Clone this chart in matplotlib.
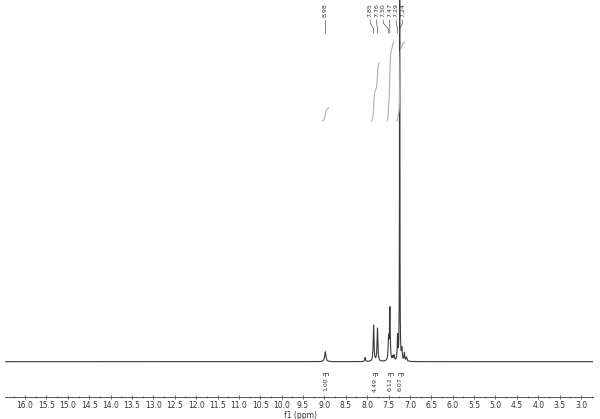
import matplotlib.pyplot as plt
import numpy as np

# peak list (ppm, height in arbitrary units, half width)
peak_ppm = [8.98, 8.05, 7.85, 7.76, 7.50, 7.47, 7.40, 7.37, 7.29, 7.24, 7.19, 7.13, 7.08]
peak_height = [10, 4, 36, 33, 22, 52, 4, 5, 24, 560, 11, 8, 4]
peak_width = [0.018, 0.010, 0.011, 0.011, 0.011, 0.010, 0.010, 0.010, 0.009, 0.004, 0.010, 0.010, 0.012]

# labelled peaks at the top
label_ppm = [8.98, 7.85, 7.76, 7.50, 7.47, 7.29, 7.24]

# integration regions and values
int_start = [9.05, 7.90, 7.53, 7.31]
int_end = [8.90, 7.72, 7.38, 7.13]
int_value = [1.00, 4.49, 6.12, 6.07]

xlim = (16.47, 2.72)

ppm = np.linspace(16.6, 2.6, 40000)
spec = np.zeros_like(ppm)
for p, h, w in zip(peak_ppm, peak_height, peak_width):
    spec += h * w**2 / ((ppm - p)**2 + w**2)

fig = plt.figure(figsize=(6.0, 4.19), dpi=100)
ax = fig.add_axes([0.0083, 0.0525, 0.98, 0.9475])

ax.plot(ppm, spec, color='#3a3a3a', lw=0.8)

# integral curves
top = 361.7
int_base = top - 121
int_scale = 13.0
for a, b, v in zip(int_start, int_end, int_value):
    m = (ppm <= a) & (ppm >= b)
    xs = ppm[m]
    cum = np.cumsum(spec[m])
    cum = cum / cum[-1] * v
    ax.plot(xs, int_base + cum * int_scale, color='#b0b0b0', lw=0.8)

    # integral label below the baseline
    xc = (a + b) / 2
    ax.plot([xc + 0.05, xc + 0.05, xc - 0.05, xc - 0.05], [-13, -11, -11, -13],
            color='#555555', lw=0.6)
    ax.plot([xc, xc], [-11, -14], color='#555555', lw=0.6)
    ax.text(xc, -16, f'{v:.2f}', rotation=90, ha='center', va='top',
            fontsize=4.5, color='#333333')

# peak labels at the top
group = label_ppm[1:]
spacing = 0.152
center = 7.55
lx = [label_ppm[0]] + [center + spacing * (len(group) - 1) / 2 - i * spacing
                       for i in range(len(group))]
for px, x in zip(label_ppm, lx):
    ax.text(x, top - 3, f'{px:.2f}', rotation=90, ha='center', va='top',
            fontsize=4.5, color='#333333')
    ax.plot([x, x, px, px], [top - 20, top - 23, top - 29, top - 33],
            color='#555555', lw=0.5)

ax.set_xlim(*xlim)
ax.set_ylim(-35.3, top)

for s in ['top', 'left', 'right']:
    ax.spines[s].set_visible(False)
ax.spines['bottom'].set_color('#555555')
ax.spines['bottom'].set_linewidth(0.7)
ax.set_yticks([])
ax.set_xticks(np.arange(16.0, 2.9, -0.5))
ax.set_xticks(np.arange(16.25, 2.7, -0.25), minor=True)
ax.set_xticklabels([f'{t:.1f}' for t in np.arange(16.0, 2.9, -0.5)])
ax.tick_params(axis='x', which='major', direction='inout', length=3, width=0.6,
               color='#555555', labelsize=5.5, labelcolor='#333333', pad=1.5)
ax.tick_params(axis='x', which='minor', direction='inout', length=2, width=0.5,
               color='#555555')
ax.set_xlabel('f1 (ppm)', fontsize=5.5, color='#333333', labelpad=0)
ax.xaxis.set_label_coords(0.502, -0.035)

fig.savefig('out.png', dpi=100)
